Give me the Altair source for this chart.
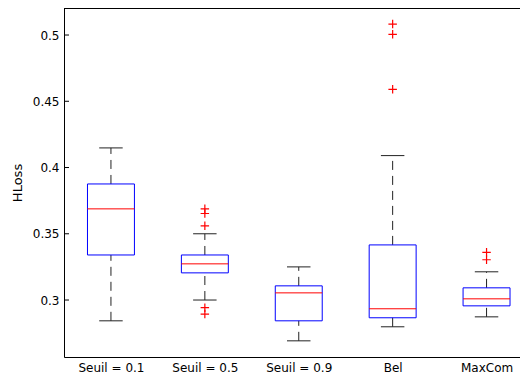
import json
import altair as alt
import pandas as pd

categories = ["Seuil = 0.1", "Seuil = 0.5", "Seuil = 0.9", "Bel", "MaxCom"]
lower_whisker = [0.2843, 0.3000, 0.2692, 0.2798, 0.2873]
q1 = [0.3340, 0.3205, 0.2843, 0.2866, 0.2956]
median = [0.3688, 0.3273, 0.3054, 0.2934, 0.3009]
q3 = [0.3876, 0.3340, 0.3107, 0.3416, 0.3092]
upper_whisker = [0.4148, 0.3500, 0.3250, 0.4090, 0.3213]

outlier_group = [2, 2, 2, 2, 2, 4, 4, 4, 5, 5]
outlier_value = [0.3688, 0.3653, 0.3560, 0.2942, 0.2894, 0.5083, 0.5005, 0.4590, 0.3360, 0.3304]

y_ticks = [0.3, 0.35, 0.4, 0.45, 0.5]

FONT = "DejaVu Sans"
W, H = 456, 349

stats = pd.DataFrame({
    "pos": list(range(1, len(categories) + 1)),
    "cat": categories,
    "lo": lower_whisker,
    "q1": q1,
    "med": median,
    "q3": q3,
    "hi": upper_whisker,
})
outliers = pd.DataFrame({"pos": outlier_group, "v": outlier_value})
ticks = pd.DataFrame({"v": y_ticks})

xscale = alt.Scale(domain=[0.5, 0.5 + W / 93.9], nice=False, zero=False)
yscale = alt.Scale(domain=[0.2570, 0.5204], nice=False, zero=False)

label_expr = json.dumps(categories) + "[datum.value - 1]"

xaxis = alt.Axis(values=list(range(1, len(categories) + 1)), labelExpr=label_expr,
                 tickSize=0, grid=False, labelFont=FONT, labelFontSize=12,
                 labelColor="black", labelPadding=5, domainColor="black",
                 domainWidth=1, labelFlush=False)
yaxis = alt.Axis(values=y_ticks, format=".2~f", tickSize=0, grid=False,
                 labelFont=FONT, labelFontSize=12, labelColor="black",
                 labelPadding=5, domainColor="black", domainWidth=1,
                 title="HLoss", titleFont=FONT, titleFontSize=13,
                 titleFontWeight="normal", titleColor="black", titlePadding=8)

base = alt.Chart(stats).transform_calculate(
    bx1="datum.pos - 0.25", bx2="datum.pos + 0.25",
    cx1="datum.pos - 0.125", cx2="datum.pos + 0.125",
)

whisk_up = base.mark_rule(color="#222", strokeDash=[9, 6], strokeWidth=1).encode(
    x=alt.X("pos:Q", scale=xscale, axis=xaxis, title=None),
    y=alt.Y("q3:Q", scale=yscale, axis=yaxis),
    y2="hi:Q",
)
whisk_lo = base.mark_rule(color="#222", strokeDash=[9, 6], strokeWidth=1).encode(
    x=alt.X("pos:Q", scale=xscale),
    y=alt.Y("lo:Q", scale=yscale),
    y2="q1:Q",
)
cap_hi = base.mark_rule(color="#222", strokeWidth=1).encode(
    x=alt.X("cx1:Q", scale=xscale), x2="cx2:Q",
    y=alt.Y("hi:Q", scale=yscale),
)
cap_lo = base.mark_rule(color="#222", strokeWidth=1).encode(
    x=alt.X("cx1:Q", scale=xscale), x2="cx2:Q",
    y=alt.Y("lo:Q", scale=yscale),
)
box = base.mark_rect(stroke="#0000ff", strokeWidth=1, fillOpacity=0, fill="white").encode(
    x=alt.X("bx1:Q", scale=xscale), x2="bx2:Q",
    y=alt.Y("q1:Q", scale=yscale), y2="q3:Q",
)
med = base.mark_rule(color="#ff0000", strokeWidth=1).encode(
    x=alt.X("bx1:Q", scale=xscale), x2="bx2:Q",
    y=alt.Y("med:Q", scale=yscale),
)
outl = alt.Chart(outliers).mark_point(
    shape="M-1,0L1,0M0,-1L0,1", size=72, filled=False, stroke="#ff0000",
    strokeWidth=1.2, opacity=1
).encode(
    x=alt.X("pos:Q", scale=xscale),
    y=alt.Y("v:Q", scale=yscale),
)
inticks = alt.Chart(ticks).mark_rule(color="black", strokeWidth=1).encode(
    x=alt.value(0), x2=alt.value(5),
    y=alt.Y("v:Q", scale=yscale),
)
top_spine = alt.Chart(ticks).mark_rule(color="black", strokeWidth=1.5).encode(
    x=alt.value(0), x2=alt.value(W), y=alt.value(0),
)

chart = alt.layer(
    whisk_up, whisk_lo, cap_hi, cap_lo, box, med, outl, inticks, top_spine
).properties(
    width=W, height=H,
    autosize=alt.AutoSizeParams(type="none"),
    padding={"left": 56, "top": 0, "right": 0, "bottom": 21},
).configure_view(stroke=None).configure(background="white")

chart.save("out.html", embed_options={"renderer": "svg", "actions": False})
